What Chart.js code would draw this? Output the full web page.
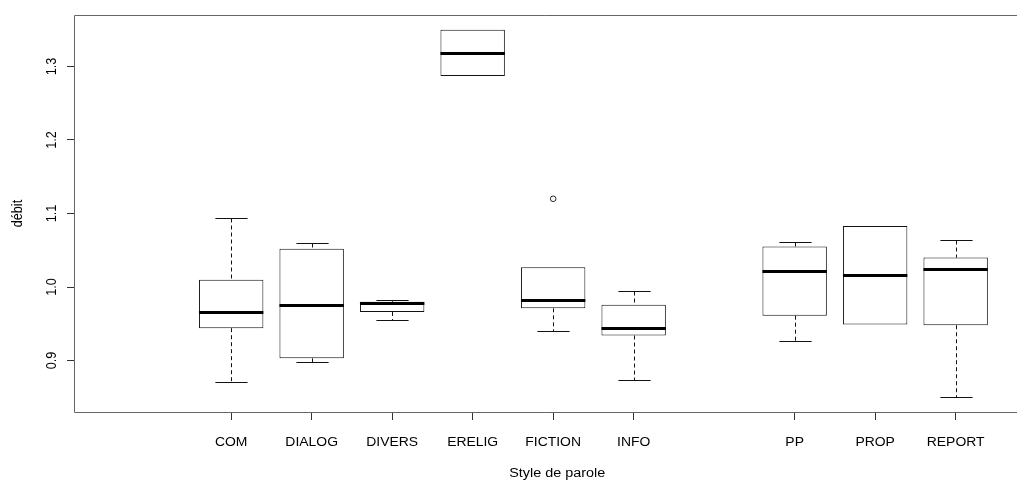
<!DOCTYPE html>
<html><head><meta charset="utf-8">
<script src="https://cdn.jsdelivr.net/npm/chart.js@4/dist/chart.umd.min.js"></script>
<style>html,body{margin:0;padding:0;background:#fff;overflow:hidden}#wrap{width:1017px;height:482px}</style>
</head><body><div id="wrap"><canvas id="c" width="1017" height="482"></canvas></div>
<script>
const categories = ['', 'COM', 'DIALOG', 'DIVERS', 'ERELIG', 'FICTION', 'INFO', '', 'PP', 'PROP', 'REPORT'];
const whiskerLow  = [null, 0.871, 0.898, 0.955, 1.287, 0.940, 0.874, null, 0.927, 0.949, 0.850];
const q1          = [null, 0.944, 0.903, 0.966, 1.287, 0.971, 0.934, null, 0.961, 0.949, 0.948];
const median      = [null, 0.966, 0.976, 0.978, 1.318, 0.982, 0.944, null, 1.022, 1.016, 1.025];
const q3          = [null, 1.010, 1.052, 0.980, 1.350, 1.027, 0.976, null, 1.055, 1.083, 1.040];
const whiskerHigh = [null, 1.094, 1.060, 0.983, 1.350, 1.027, 0.994, null, 1.061, 1.083, 1.064];
const outlierCats = ['FICTION'];
const outlierVals = [1.120];
const yTicks = [0.9, 1.0, 1.1, 1.2, 1.3];
const yTickLabels = ['0.9', '1.0', '1.1', '1.2', '1.3'];
const xTitle = 'Style de parole';
const yTitle = 'débit';

const boxData = [];
categories.forEach((c, i) => { if (q1[i] != null) boxData.push({ x: i + 1, y: [q1[i], q3[i]], k: i }); });
const outlierData = outlierCats.map((c, j) => ({ x: categories.indexOf(c) + 1, y: outlierVals[j] }));

const FONT = '12px "Liberation Sans", Arial, sans-serif';

const boxPlugin = {
  id: 'boxExtras',
  afterDatasetsDraw(chart) {
    const ctx = chart.ctx, ys = chart.scales.y;
    const meta = chart.getDatasetMeta(0);
    ctx.save();
    meta.data.forEach((bar, j) => {
      const i = boxData[j].k;
      const cx = Math.round(bar.x) + 0.5;
      const hw = bar.width / 2;
      const capHw = hw / 2;
      const yq1 = ys.getPixelForValue(q1[i]), yq3 = ys.getPixelForValue(q3[i]);
      const ylo = Math.round(ys.getPixelForValue(whiskerLow[i])) + 0.5;
      const yhi = Math.round(ys.getPixelForValue(whiskerHigh[i])) + 0.5;
      ctx.strokeStyle = '#111';
      ctx.lineWidth = 1;
      ctx.setLineDash([4, 3]);
      ctx.beginPath();
      if (whiskerHigh[i] > q3[i]) { ctx.moveTo(cx, yhi); ctx.lineTo(cx, yq3); }
      if (whiskerLow[i] < q1[i]) { ctx.moveTo(cx, yq1); ctx.lineTo(cx, ylo); }
      ctx.stroke();
      ctx.setLineDash([]);
      ctx.beginPath();
      if (whiskerHigh[i] > q3[i]) { ctx.moveTo(cx - capHw, yhi); ctx.lineTo(cx + capHw, yhi); }
      if (whiskerLow[i] < q1[i]) { ctx.moveTo(cx - capHw, ylo); ctx.lineTo(cx + capHw, ylo); }
      ctx.stroke();
      const ym = Math.round(ys.getPixelForValue(median[i])) + 0.5;
      ctx.lineWidth = 3;
      ctx.strokeStyle = '#000';
      ctx.beginPath();
      ctx.moveTo(bar.x - hw, ym); ctx.lineTo(bar.x + hw, ym);
      ctx.stroke();
    });
    ctx.restore();
  },
  afterDraw(chart) {
    const ctx = chart.ctx, xs = chart.scales.x, ys = chart.scales.y, a = chart.chartArea;
    ctx.save();
    ctx.strokeStyle = '#666';
    ctx.lineWidth = 1;
    const L = Math.round(a.left) - 0.5, T = Math.round(a.top) + 0.5, B = Math.round(a.bottom) + 0.5;
    ctx.beginPath();
    ctx.moveTo(chart.width, T); ctx.lineTo(L, T); ctx.lineTo(L, B); ctx.lineTo(chart.width, B);
    ctx.stroke();
    ctx.fillStyle = '#000';
    ctx.font = FONT;
    ctx.textAlign = 'center';
    ctx.textBaseline = 'alphabetic';
    categories.forEach((c, i) => {
      if (!c) return;
      ctx.save();
      ctx.translate(xs.getPixelForValue(i + 1), a.bottom + 33.5);
      ctx.scale(1.16, 1);
      ctx.fillText(c, 0, 0);
      ctx.restore();
    });
    ctx.save();
    ctx.translate(xs.getPixelForValue(6.05), a.bottom + 65.3);
    ctx.scale(1.2, 1);
    ctx.fillText(xTitle, 0, 0);
    ctx.restore();
    yTicks.forEach((v, j) => {
      ctx.save();
      ctx.translate(a.left - 19.5, ys.getPixelForValue(v));
      ctx.rotate(-Math.PI / 2);
      ctx.scale(1.05, 1.2);
      ctx.fillText(yTickLabels[j], 0, 0);
      ctx.restore();
    });
    ctx.save();
    ctx.translate(21.7, (a.top + a.bottom) / 2);
    ctx.rotate(-Math.PI / 2);
    ctx.scale(1.05, 1.2);
    ctx.fillText(yTitle, 0, 0);
    ctx.restore();
    ctx.restore();
  }
};

new Chart(document.getElementById('c'), {
  type: 'bar',
  data: {
    datasets: [
      { type: 'bar', data: boxData, backgroundColor: '#ffffff', borderColor: '#111', borderWidth: 1,
        borderSkipped: false, barPercentage: 0.8, categoryPercentage: 1, order: 2 },
      { type: 'line', data: outlierData, showLine: false, pointRadius: 2.8, pointBorderWidth: 1,
        pointBorderColor: '#222', pointBackgroundColor: 'rgba(0,0,0,0)', order: 1 }
    ]
  },
  options: {
    responsive: false, animation: false, devicePixelRatio: 1,
    layout: { padding: { top: 15, left: 0, right: 0, bottom: 0 } },
    plugins: { legend: { display: false }, tooltip: { enabled: false } },
    scales: {
      x: {
        type: 'linear', min: 0.06, max: 11.70, offset: false,
        afterBuildTicks: s => { s.ticks = categories.map((c, i) => ({ value: i + 1 })); },
        afterFit: s => { s.height = 70; },
        ticks: { display: false },
        grid: { offset: false, drawOnChartArea: false, drawTicks: true, tickLength: 8, lineWidth: 1,
          color: ctx => (ctx.tick && categories[ctx.tick.value - 1]) ? '#333' : 'rgba(0,0,0,0)' },
        border: { display: false }
      },
      y: {
        type: 'linear', min: 0.83, max: 1.37,
        afterBuildTicks: s => { s.ticks = yTicks.map(v => ({ value: v })); },
        afterFit: s => { s.width = 75; },
        ticks: { display: false },
        grid: { drawOnChartArea: false, drawTicks: true, tickLength: 8, color: '#333' },
        border: { display: false }
      }
    }
  },
  plugins: [boxPlugin]
});
</script>
</body></html>
